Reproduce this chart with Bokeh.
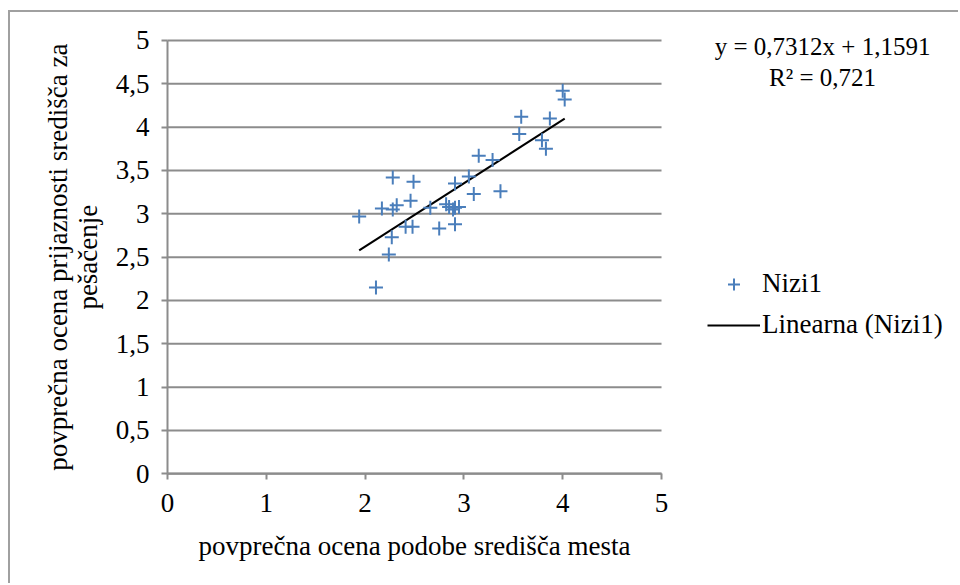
import math
from bokeh.plotting import figure
from bokeh.models import (Range1d, FixedTicker, CustomJSTickFormatter, Legend, LegendItem, Label)
from bokeh.embed import file_html
from bokeh.resources import INLINE

# data
x_vals = [4.00, 4.02, 3.58, 3.87, 3.56, 3.79, 3.83, 3.15, 3.29, 3.05, 2.28, 2.49, 2.91, 3.37,
          3.10, 2.46, 2.32, 2.17, 2.28, 2.66, 2.82, 2.85, 2.91, 2.95, 2.89, 1.94, 2.41, 2.48,
          2.75, 2.91, 2.27, 2.24, 2.11]
y_vals = [4.42, 4.32, 4.12, 4.10, 3.92, 3.85, 3.75, 3.67, 3.62, 3.43, 3.42, 3.37, 3.35, 3.26,
          3.23, 3.15, 3.10, 3.06, 3.05, 3.07, 3.11, 3.08, 3.07, 3.08, 3.05, 2.97, 2.85, 2.85,
          2.83, 2.88, 2.73, 2.53, 2.15]
slope = 0.7312
intercept = 1.1591
equation_text = "y = 0,7312x + 1,1591\nR² = 0,721"
x_ticks = [0, 1, 2, 3, 4, 5]
y_ticks = [0, 0.5, 1, 1.5, 2, 2.5, 3, 3.5, 4, 4.5, 5]
series_name = "Nizi1"
trend_name = "Linearna (Nizi1)"
x_label = "povprečna ocena podobe središča mesta"
y_label = "povprečna ocena prijaznosti središča za\npešačenje"

FONT = "Liberation Serif"
FS = "27px"
FS_EQ = "25px"
GRAY = "#8c8c8c"
BLUE = "#4a7ebb"

# the plot frame covers the whole canvas; axes are pinned at 0 so that
# titles, legend and equation can sit anywhere without being clipped
p = figure(width=950, height=573, output_backend="svg", toolbar_location=None,
           x_range=Range1d(-1.589, 8.026), y_range=Range1d(-1.289, 5.323),
           min_border=0)
p.styles = {"margin-left": "8px", "margin-top": "10px",
            "border-left": "2px solid #a0a0a0", "border-top": "2px solid #a0a0a0"}
p.outline_line_color = None
p.background_fill_color = "white"
p.border_fill_color = "white"

fmt = CustomJSTickFormatter(code="return tick.toString().replace('.', ',');")

p.xaxis.ticker = FixedTicker(ticks=x_ticks)
p.yaxis.ticker = FixedTicker(ticks=y_ticks)
p.xaxis.bounds = (x_ticks[0], x_ticks[-1])
p.yaxis.bounds = (y_ticks[0], y_ticks[-1])
p.xaxis.fixed_location = y_ticks[0]
p.yaxis.fixed_location = x_ticks[0]
for ax in (p.xaxis[0], p.yaxis[0]):
    ax.formatter = fmt
    ax.axis_line_color = GRAY
    ax.axis_line_width = 2
    ax.major_tick_line_color = GRAY
    ax.major_tick_line_width = 2
    ax.major_tick_out = 6
    ax.major_tick_in = 0
    ax.minor_tick_line_color = None
    ax.major_label_text_font = FONT
    ax.major_label_text_font_size = FS
    ax.major_label_text_color = "black"

p.xaxis.major_label_standoff = 14
p.yaxis.major_label_standoff = 12

p.xgrid.grid_line_color = None
p.ygrid.grid_line_color = None
# horizontal gridlines only across the x-axis extent
p.segment(x0=[x_ticks[0]] * len(y_ticks), x1=[x_ticks[-1]] * len(y_ticks),
          y0=y_ticks, y1=y_ticks, line_color=GRAY, line_width=2, level="underlay")

x_min, x_max = min(x_vals), max(x_vals)
tx = [x_min, x_max]
ty = [slope * v + intercept for v in tx]
trend = p.line(tx, ty, line_color="black", line_width=2)
pts = p.scatter(x_vals, y_vals, marker="cross", size=14, line_color=BLUE, line_width=2)

# axis titles
xt = Label(x=(x_ticks[0] + x_ticks[-1]) / 2, y=-0.83, text=x_label, text_font=FONT,
           text_font_size=FS, text_align="center", text_baseline="middle", text_color="black")
yt = Label(x=-0.96, y=(y_ticks[0] + y_ticks[-1]) / 2, text=y_label, text_font=FONT,
           text_font_size=FS, text_align="center", text_baseline="middle", text_color="black",
           angle=math.pi / 2, text_line_height=1.0)
p.add_layout(xt)
p.add_layout(yt)

legend = Legend(items=[LegendItem(label=series_name, renderers=[pts]),
                       LegendItem(label=trend_name, renderers=[trend])],
                location=(697, 245), padding=0, margin=0, spacing=10,
                glyph_width=53, glyph_height=30, label_height=30, label_standoff=2,
                border_line_color=None, background_fill_alpha=0)
legend.label_text_font = FONT
legend.label_text_font_size = FS
legend.label_text_color = "black"
p.add_layout(legend, "center")

eq = Label(x=6.63, y=4.75, text=equation_text, text_font=FONT, text_font_size=FS_EQ,
           text_align="center", text_baseline="middle", text_color="black",
           text_line_height=1.15)
p.add_layout(eq)

open("out.html", "w").write(file_html(p, INLINE))
